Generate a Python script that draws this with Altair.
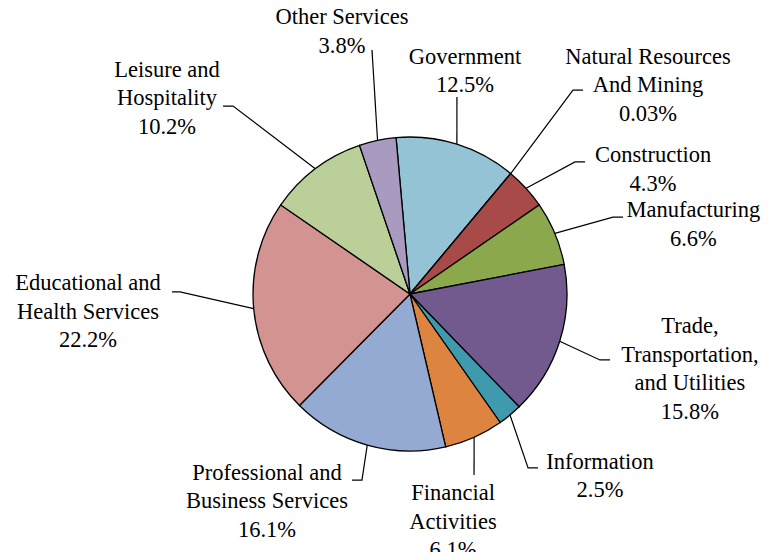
import math
import altair as alt
import pandas as pd

# ---- data -------------------------------------------------------------
categories = [
    "Government", "Natural Resources And Mining", "Construction", "Manufacturing",
    "Trade, Transportation, and Utilities", "Information", "Financial Activities",
    "Professional and Business Services", "Educational and Health Services",
    "Leisure and Hospitality", "Other Services",
]
shares = [12.5, 0.03, 4.3, 6.6, 15.8, 2.5, 6.1, 16.1, 22.2, 10.2, 3.8]
share_text = ["12.5%", "0.03%", "4.3%", "6.6%", "15.8%", "2.5%", "6.1%", "16.1%", "22.2%", "10.2%", "3.8%"]
label_lines = [
    ["Government"],
    ["Natural Resources", "And Mining"],
    ["Construction"],
    ["Manufacturing"],
    ["Trade,", "Transportation,", "and Utilities"],
    ["Information"],
    ["Financial", "Activities"],
    ["Professional and", "Business Services"],
    ["Educational and", "Health Services"],
    ["Leisure and", "Hospitality"],
    ["Other Services"],
]
colors = ["#93C3D5", "#4A7EBB", "#A84A48", "#8BA84D", "#72598E", "#3F9AAE",
          "#DD8441", "#95AAD2", "#D39391", "#BBD098", "#A99BBF"]

# ---- layout (units of pie radius, pie centre at 0,0) -------------------
start_deg = -5.1
label_pos = [(0.350, 1.510), (1.516, 1.510), (1.548, 0.885), (1.805, 0.535),
             (1.783, -0.204), (1.210, -1.070), (0.274, -1.268), (-0.911, -1.140),
             (-2.051, 0.070), (-1.548, 1.427), (-0.433, 1.764)]
leader_pts = [
    [(0.299, 1.255)],
    [(1.038, 1.299), (1.102, 1.299)],
    [(1.051, 0.841), (1.115, 0.841)],
    [(1.293, 0.490), (1.357, 0.490)],
    [(1.210, -0.420), (1.274, -0.420)],
    [(0.752, -1.108), (0.815, -1.108)],
    [(0.408, -1.153)],
    [(-0.306, -1.185), (-0.369, -1.185)],
    [(-1.465, 0.013), (-1.516, 0.013)],
    [(-1.127, 1.197), (-1.191, 1.197)],
    [(-0.242, 1.554)],
]
R_PX = 157
W, H = 753, 544
CX, CY = 402, 286
line_step = 28.5 / R_PX

pie_df = pd.DataFrame({"cat": categories, "share": shares, "idx": list(range(len(shares)))})

total = sum(shares)
rows_line, rows_text = [], []
cum = 0.0
for i, cat in enumerate(categories):
    mid = start_deg + (cum + shares[i] / 2) / total * 360
    cum += shares[i]
    a = math.radians(mid)
    pts = [(math.sin(a), math.cos(a))] + leader_pts[i]
    for j, (px, py) in enumerate(pts):
        rows_line.append({"cat": cat, "seq": j, "x": px, "y": py})
    lines = label_lines[i] + [share_text[i]]
    lx, ly = label_pos[i]
    for k, t in enumerate(lines):
        rows_text.append({"cat": cat, "x": lx, "y": ly - k * line_step, "t": t})

line_df = pd.DataFrame(rows_line)
text_df = pd.DataFrame(rows_text)

xs = alt.Scale(domain=[-CX / R_PX, (W - CX) / R_PX], nice=False, zero=False)
ys = alt.Scale(domain=[-(H - CY) / R_PX, CY / R_PX], nice=False, zero=False)

start = math.radians(start_deg)
pie = alt.Chart(pie_df).mark_arc(radius=R_PX, stroke="black", strokeWidth=1.3).encode(
    theta=alt.Theta("share:Q", stack=True, scale=alt.Scale(range=[start, start + 2 * math.pi])),
    color=alt.Color("cat:N", scale=alt.Scale(domain=categories, range=colors), legend=None),
    order=alt.Order("idx:Q"),
    x=alt.datum(0, scale=xs, axis=None),
    y=alt.datum(0, scale=ys, axis=None),
)

leaders = alt.Chart(line_df).mark_line(color="black", strokeWidth=1.2).encode(
    x=alt.X("x:Q", scale=xs, axis=None),
    y=alt.Y("y:Q", scale=ys, axis=None),
    detail="cat:N",
    order="seq:Q",
)

texts = alt.Chart(text_df).mark_text(
    font="'Liberation Serif', 'Times New Roman', 'DejaVu Serif', serif",
    fontSize=22.5, align="center", baseline="middle", color="black"
).encode(
    x=alt.X("x:Q", scale=xs, axis=None),
    y=alt.Y("y:Q", scale=ys, axis=None),
    text="t:N",
)

chart = alt.layer(pie, leaders, texts).properties(
    width=W, height=H, padding=0, autosize=alt.AutoSizeParams(type="none")
).configure_view(stroke=None)

chart.save("out.html", embed_options={"renderer": "svg", "actions": False})
